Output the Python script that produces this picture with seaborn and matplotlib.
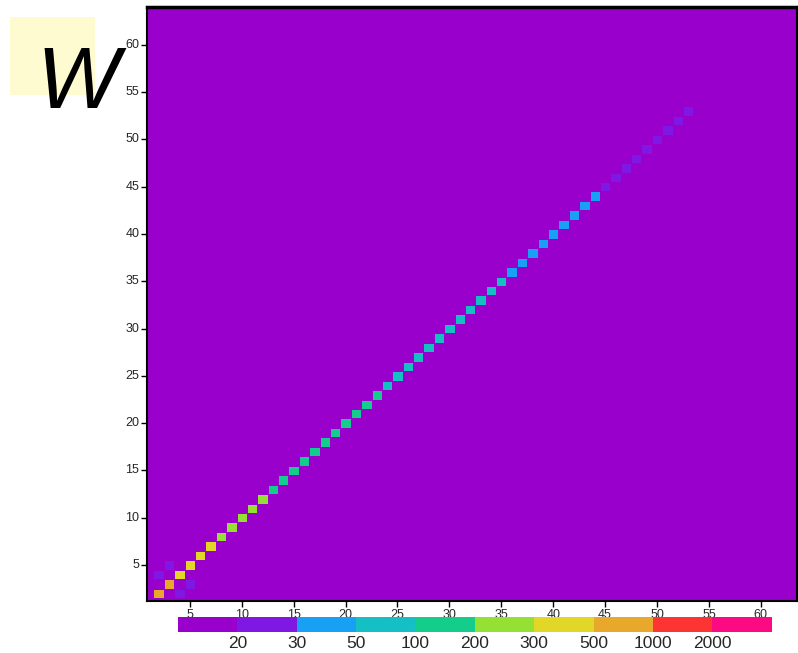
import numpy as np
import pandas as pd
import matplotlib
matplotlib.use('Agg')
import matplotlib.pyplot as plt
import seaborn as sns
from matplotlib.colors import ListedColormap, BoundaryNorm
from matplotlib.patches import Rectangle

# grid of cells, values indexed 1..grid_size on both axes
grid_size = 64
background_value = 12

# diagonal cells, starting at (2,2)
diag_start = 2
diag_vals = [800, 650,
             450, 400, 360, 320,
             290, 270, 250, 230, 210,
             190, 180, 170, 160, 150, 140, 130, 120, 115, 110, 105,
             95, 90, 85, 80, 76, 72, 68, 64, 60, 57, 54, 52,
             48, 46, 44, 42, 40, 38, 36, 34, 32,
             29, 28, 27, 26, 25, 24, 23, 22, 21]

# faint cells just off the diagonal near the origin
side_x = [2, 3, 4, 5]
side_y = [4, 5, 2, 3]
side_vals = [25, 25, 25, 25]

level_bounds = [10, 20, 30, 50, 100, 200, 300, 500, 1000, 2000, 5000]
level_labels = ['20', '30', '50', '100', '200', '300', '500', '1000', '2000']
level_colors = ['#9900cc', '#8018e4', '#18a0f4', '#14c0c4', '#14cc8c',
                '#94e034', '#e2d626', '#e8a82c', '#fc3434', '#fc0a84']
axis_ticks = [5, 10, 15, 20, 25, 30, 35, 40, 45, 50, 55, 60]

sns.set_style('white')
plt.rcParams['font.family'] = ['Liberation Sans', 'DejaVu Sans']

vals = np.full((grid_size, grid_size), background_value, dtype=float)
for k, v in enumerate(diag_vals):
    i = diag_start + k
    vals[i - 1, i - 1] = v
for x, y, v in zip(side_x, side_y, side_vals):
    vals[y - 1, x - 1] = v
idx = list(range(1, grid_size + 1))
df = pd.DataFrame(vals, index=idx, columns=idx)

fig = plt.figure(figsize=(7.98, 6.53), dpi=100)
ax = fig.add_axes([0.184, 0.0796, 0.815, 0.9096])
cax = fig.add_axes([0.223, 0.0322, 0.744, 0.023])

cmap = ListedColormap(level_colors)
norm = BoundaryNorm(level_bounds, cmap.N)
sns.heatmap(df, ax=ax, cmap=cmap, norm=norm, cbar_ax=cax,
            cbar_kws={'orientation': 'horizontal', 'ticks': level_bounds[1:-1]},
            linewidths=0.4, linecolor=level_colors[0])

# heatmap cells for value v sit on [v-1, v]
ax.set_xlim(0.86 - 0.5, 63.5 - 0.5)
ax.set_ylim(1.19 - 0.5, 64.0 - 0.5)
ax.set_xticks([t - 0.5 for t in axis_ticks], [str(t) for t in axis_ticks], rotation=0)
ax.set_yticks([t - 0.5 for t in axis_ticks], [str(t) for t in axis_ticks], rotation=0)
ax.tick_params(bottom=True, left=True, direction='out', length=4, width=1,
               labelsize=9, pad=1.5, color='black')
for s in ax.spines.values():
    s.set_visible(True)
    s.set_color('black')
    s.set_linewidth(1.5)
ax.spines['top'].set_linewidth(2.5)
ax.set_xlabel('')
ax.set_ylabel('')

cbar = ax.collections[0].colorbar
cbar.outline.set_visible(False)
cax.minorticks_off()
cax.tick_params(which='both', length=0, labelsize=12.5, pad=3)
cax.set_xticklabels(level_labels)

# panel label
fig.patches.append(Rectangle((0.0125, 0.8545), 0.1065, 0.1195, transform=fig.transFigure,
                             facecolor='#fffbd0', edgecolor='none', zorder=0))
fig.text(0.046, 0.8345, 'W', fontsize=63, style='italic', ha='left', va='baseline',
         color='black')

fig.savefig('out.png', dpi=100)
